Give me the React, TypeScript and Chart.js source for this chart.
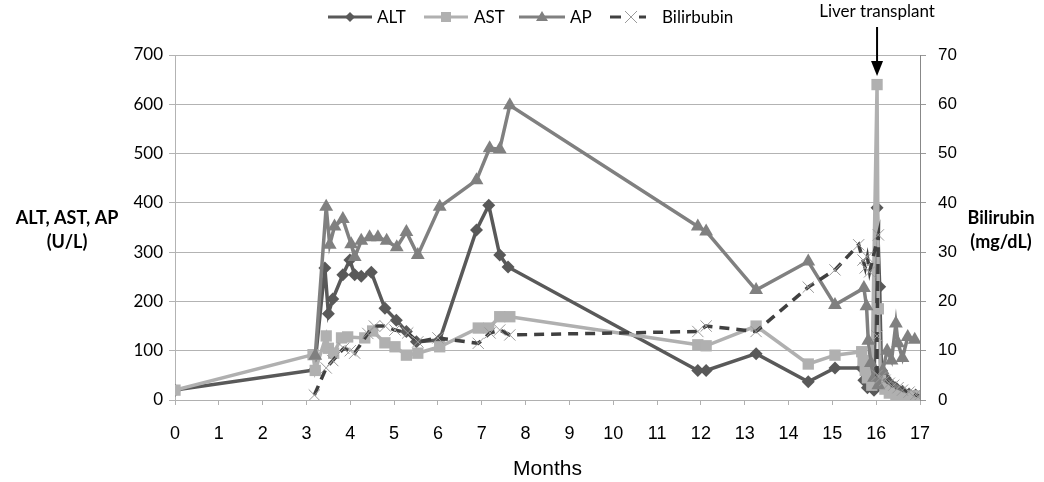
import React, { useEffect, useRef } from "react";
import { Chart, registerables } from "chart.js";
Chart.register(...registerables);

// ---- data (months on x) ----
const ALT_MONTHS = [0, 3.18, 3.42, 3.5, 3.6, 3.83, 3.99, 4.1, 4.25, 4.48, 4.79, 5.05, 5.28, 5.51, 6.04, 6.88, 7.16, 7.41, 7.6, 11.93, 12.12, 13.26, 14.45, 15.06, 15.67, 15.72, 15.8, 15.95, 16.02, 16.08, 16.12, 16.2, 16.3, 16.45, 16.6, 16.75, 16.9];
const ALT_VALUES = [20, 61, 268, 175, 205, 254, 284, 254, 251, 259, 186, 162, 139, 118, 122, 345, 395, 294, 270, 60, 60, 94, 37, 65, 65, 40, 25, 20, 390, 230, 60, 45, 35, 25, 18, 12, 10];

const AST_MONTHS = [0, 3.15, 3.2, 3.45, 3.5, 3.62, 3.8, 3.94, 4.33, 4.51, 4.79, 5.02, 5.28, 5.54, 6.04, 6.92, 7.16, 7.41, 7.64, 11.93, 12.12, 13.26, 14.45, 15.06, 15.67, 15.7, 15.75, 15.8, 15.9, 16.02, 16.05, 16.1, 16.2, 16.3, 16.45, 16.6, 16.8, 16.95];
const AST_VALUES = [20, 92, 60, 130, 105, 95, 126, 128, 126, 140, 116, 108, 91, 95, 108, 146, 146, 169, 169, 112, 110, 150, 73, 91, 98, 80, 60, 45, 30, 640, 185, 40, 22, 14, 10, 8, 8, 8];

const AP_MONTHS = [3.2, 3.45, 3.53, 3.64, 3.83, 4.02, 4.1, 4.25, 4.44, 4.63, 4.83, 5.06, 5.28, 5.54, 6.04, 6.88, 7.18, 7.41, 7.64, 11.93, 12.12, 13.26, 14.45, 15.06, 15.72, 15.78, 15.82, 15.88, 15.95, 16.05, 16.15, 16.25, 16.35, 16.45, 16.5, 16.6, 16.72, 16.88];
const AP_VALUES = [90, 392, 315, 352, 367, 316, 290, 323, 330, 330, 323, 310, 341, 294, 392, 446, 511, 509, 598, 352, 342, 223, 281, 193, 227, 190, 120, 75, 45, 30, 60, 100, 80, 155, 115, 85, 128, 122];

const BILI_MONTHS = [3.18, 3.45, 3.6, 3.85, 4.0, 4.1, 4.4, 4.55, 4.8, 5.02, 5.31, 5.54, 6.0, 6.92, 7.19, 7.41, 7.64, 11.93, 12.12, 13.26, 14.45, 15.06, 15.6, 15.7, 15.75, 15.8, 15.85, 16.05, 16.02, 16.02, 16.1, 16.2, 16.3, 16.4, 16.5, 16.6, 16.75, 16.9, 16.97];
const BILI_VALUES = [1, 6.5, 8, 10.5, 10, 9.5, 13.5, 15, 15, 14.2, 13.6, 11.8, 12.6, 11.5, 13.6, 14.2, 13.2, 13.9, 15, 13.9, 22.9, 26.4, 31.5, 28.4, 26.8, 29, 26, 33.5, 13, 5, 4.5, 4, 3.4, 3, 2.5, 2, 1.6, 1.1, 0.8];

const X_MIN = 0;
const X_MAX = 17;
const LEFT_MAX = 700;
const RIGHT_MAX = 70;
const TRANSPLANT_MONTH = 16.02;
const TRANSPLANT_LABEL = "Liver transplant";
const LEFT_TITLE = ["ALT, AST, AP", "(U/L)"];
const RIGHT_TITLE = ["Bilirubin", "(mg/dL)"];
const SERIES_NAMES = ["ALT", "AST", "AP", "Bilirbubin"];

const C_ALT = "#595959";
const C_AST = "#b0b0b0";
const C_AP = "#808080";
const C_BILI = "#404040";
const C_BILI_MARK = "#9a9a9a";

const pts = (xs: number[], ys: number[]) => xs.map((x, i) => ({ x, y: ys[i] }));

const overlay = {
  id: "overlay",
  afterDraw(chart: any) {
    const ctx = chart.ctx as CanvasRenderingContext2D;
    ctx.save();
    // axis titles
    ctx.fillStyle = "#000";
    ctx.font = "bold 18px Lato";
    ctx.textAlign = "center";
    ctx.textBaseline = "middle";
    ctx.fillText(LEFT_TITLE[0], 67, 218);
    ctx.fillText(LEFT_TITLE[1], 67, 242);
    ctx.fillText(RIGHT_TITLE[0], 1001, 218);
    ctx.fillText(RIGHT_TITLE[1], 1001, 242);

    // transplant arrow
    const ax = chart.scales.x.getPixelForValue(TRANSPLANT_MONTH);
    ctx.font = "17px Lato";
    ctx.fillText(TRANSPLANT_LABEL, ax, 12);
    ctx.strokeStyle = "#000";
    ctx.lineWidth = 2;
    ctx.beginPath();
    ctx.moveTo(ax, 27);
    ctx.lineTo(ax, 64);
    ctx.stroke();
    ctx.beginPath();
    ctx.moveTo(ax - 6, 61);
    ctx.lineTo(ax + 6, 61);
    ctx.lineTo(ax, 76);
    ctx.closePath();
    ctx.fill();

    // legend
    const ly = 17;
    ctx.font = "17px Lato";
    ctx.textAlign = "left";
    const line = (x1: number, x2: number, color: string) => {
      ctx.strokeStyle = color;
      ctx.lineWidth = 3;
      ctx.beginPath();
      ctx.moveTo(x1, ly);
      ctx.lineTo(x2, ly);
      ctx.stroke();
    };
    // ALT
    line(328, 372, C_ALT);
    ctx.fillStyle = C_ALT;
    ctx.beginPath();
    ctx.moveTo(350, ly - 5);
    ctx.lineTo(355, ly);
    ctx.lineTo(350, ly + 5);
    ctx.lineTo(345, ly);
    ctx.closePath();
    ctx.fill();
    ctx.fillStyle = "#000";
    ctx.fillText(SERIES_NAMES[0], 377, ly + 1);
    // AST
    line(424, 468, C_AST);
    ctx.fillStyle = C_AST;
    ctx.fillRect(441, ly - 5, 10, 10);
    ctx.fillStyle = "#000";
    ctx.fillText(SERIES_NAMES[1], 474, ly + 1);
    // AP
    line(519, 565, C_AP);
    ctx.fillStyle = C_AP;
    ctx.beginPath();
    ctx.moveTo(542, ly - 6);
    ctx.lineTo(548, ly + 4);
    ctx.lineTo(536, ly + 4);
    ctx.closePath();
    ctx.fill();
    ctx.fillStyle = "#000";
    ctx.fillText(SERIES_NAMES[2], 570, ly + 1);
    // Bilirubin
    line(610, 621, C_BILI);
    line(639, 646, C_BILI);
    ctx.strokeStyle = C_BILI_MARK;
    ctx.lineWidth = 1;
    ctx.beginPath();
    ctx.moveTo(625, ly - 6);
    ctx.lineTo(637, ly + 6);
    ctx.moveTo(637, ly - 6);
    ctx.lineTo(625, ly + 6);
    ctx.stroke();
    ctx.fillStyle = "#000";
    ctx.fillText(SERIES_NAMES[3], 662, ly + 1);
    ctx.restore();
  },
};

export default function App() {
  const ref = useRef<HTMLCanvasElement>(null);
  useEffect(() => {
    document.body.style.margin = "0";
    const chart = new Chart(ref.current as HTMLCanvasElement, {
      type: "line",
      data: {
        datasets: [
          {
            label: SERIES_NAMES[0],
            data: pts(ALT_MONTHS, ALT_VALUES),
            yAxisID: "y",
            borderColor: C_ALT,
            backgroundColor: C_ALT,
            borderWidth: 3.5,
            pointStyle: "rectRot",
            pointRadius: 6.5,
            pointBorderWidth: 0,
            pointBackgroundColor: C_ALT,
            order: 4,
          },
          {
            label: SERIES_NAMES[1],
            data: pts(AST_MONTHS, AST_VALUES),
            yAxisID: "y",
            borderColor: C_AST,
            backgroundColor: C_AST,
            borderWidth: 3.5,
            pointStyle: "rect",
            pointRadius: 8,
            pointBorderWidth: 0,
            pointBackgroundColor: C_AST,
            order: 3,
          },
          {
            label: SERIES_NAMES[2],
            data: pts(AP_MONTHS, AP_VALUES),
            yAxisID: "y",
            borderColor: C_AP,
            backgroundColor: C_AP,
            borderWidth: 3.5,
            pointStyle: "triangle",
            pointRadius: 8,
            pointBorderWidth: 0,
            pointBackgroundColor: C_AP,
            order: 2,
          },
          {
            label: SERIES_NAMES[3],
            data: pts(BILI_MONTHS, BILI_VALUES),
            yAxisID: "y2",
            borderColor: C_BILI,
            backgroundColor: "transparent",
            borderWidth: 3.5,
            borderDash: [10, 7],
            pointStyle: "crossRot",
            pointRadius: 8,
            pointBorderWidth: 1,
            pointBorderColor: C_BILI_MARK,
            order: 1,
          },
        ],
      },
      options: {
        animation: false,
        responsive: false,
        devicePixelRatio: 1,
        layout: { padding: { top: 55, left: 0, right: 0, bottom: 0 } },
        plugins: { legend: { display: false }, tooltip: { enabled: false } },
        elements: { line: { tension: 0 } },
        scales: {
          x: {
            type: "linear",
            min: X_MIN,
            max: X_MAX,
            afterFit: (s: any) => { s.height = 82; },
            ticks: { stepSize: 1, color: "#000", font: { family: "Liberation Sans", size: 18 }, padding: 18 },
            grid: { drawOnChartArea: false, drawTicks: true, tickLength: 5, color: "#b0b0b0" },
            border: { color: "#b0b0b0" },
            title: { display: true, text: "Months", color: "#000", font: { family: "Liberation Sans", size: 21 }, padding: { top: 4, bottom: 0 } },
          },
          y: {
            position: "left",
            min: 0,
            max: LEFT_MAX,
            afterFit: (s: any) => { s.width = 175; },
            ticks: { stepSize: 100, color: "#000", font: { family: "Lato", size: 17 }, padding: 6 },
            grid: { color: "#b3b3b3", tickLength: 6 },
            border: { color: "#b3b3b3" },
          },
          y2: {
            position: "right",
            min: 0,
            max: RIGHT_MAX,
            afterFit: (s: any) => { s.width = 124; },
            ticks: { stepSize: 10, color: "#000", font: { family: "Liberation Sans", size: 17 }, padding: 12 },
            grid: { drawOnChartArea: false, tickLength: 6, color: "#999" },
            border: { color: "#888", dash: [6, 4], width: 1 },
          },
        },
      },
      plugins: [overlay],
    } as any);
    return () => chart.destroy();
  }, []);
  return (
    <div style={{ position: "absolute", left: 0, top: 0, width: 1044, height: 482, background: "#fff" }}>
      <canvas ref={ref} width={1044} height={482} />
    </div>
  );
}
